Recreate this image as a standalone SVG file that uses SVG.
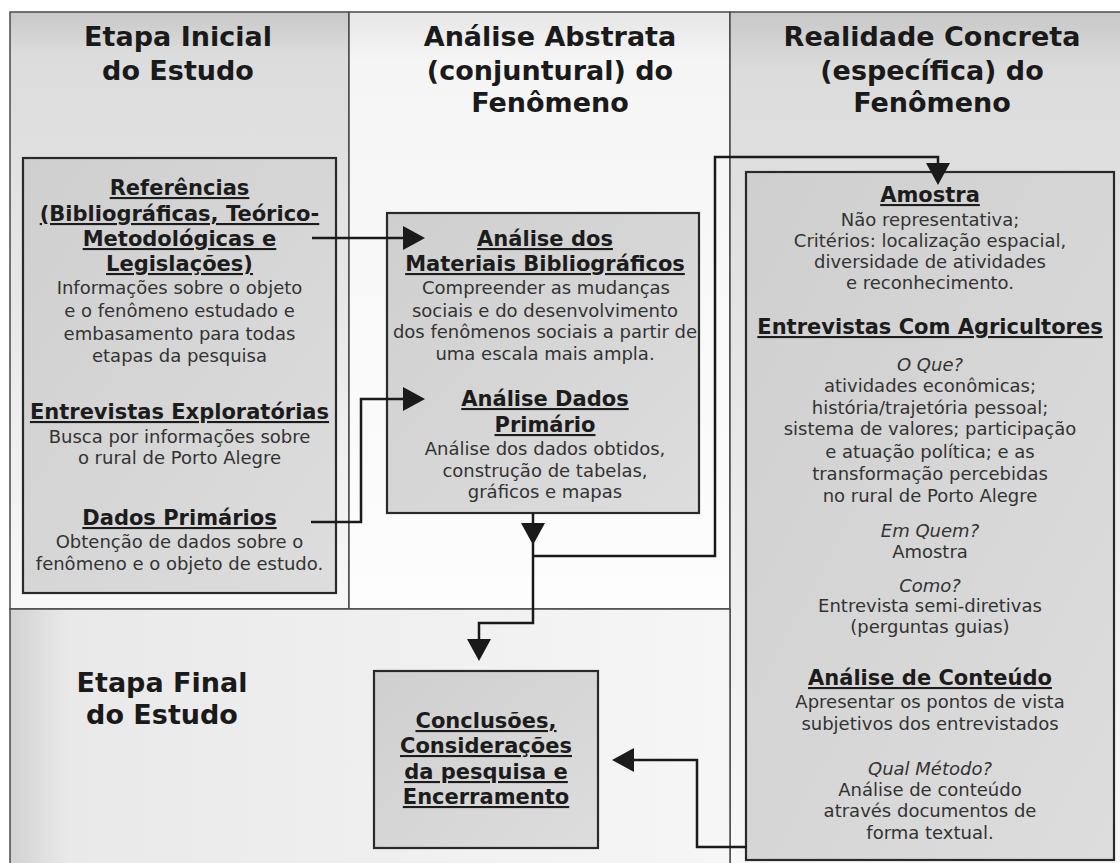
<svg xmlns="http://www.w3.org/2000/svg" width="1120" height="863" viewBox="0 0 1120 863">
<defs>
<linearGradient id="gSide" x1="0" y1="0" x2="0" y2="1">
<stop offset="0" stop-color="#c8c8c8"/>
<stop offset="0.07" stop-color="#dcdcdc"/>
<stop offset="0.45" stop-color="#e6e6e6"/>
<stop offset="1" stop-color="#f8f8f8"/>
</linearGradient>
<linearGradient id="gMid" x1="0" y1="0" x2="0" y2="1">
<stop offset="0" stop-color="#e6e6e6"/>
<stop offset="0.08" stop-color="#f5f5f5"/>
<stop offset="1" stop-color="#fdfdfd"/>
</linearGradient>
<linearGradient id="gBot" x1="0" y1="0" x2="1" y2="0">
<stop offset="0" stop-color="#d2d2d2"/>
<stop offset="0.08" stop-color="#e9e9e9"/>
<stop offset="1" stop-color="#f6f6f6"/>
</linearGradient>
<linearGradient id="gBox" x1="0" y1="0" x2="1" y2="1">
<stop offset="0" stop-color="#cfcfcf"/>
<stop offset="1" stop-color="#dddddd"/>
</linearGradient>
<marker id="arr" markerUnits="userSpaceOnUse" markerWidth="22" markerHeight="24" viewBox="0 0 22 24" refX="0" refY="12" orient="auto">
<path d="M0,0 L22,12 L0,24 Z" fill="#1a1a1a"/>
</marker>
</defs>
<style>
.panel{stroke:#4a4a4a;stroke-width:1.5}
.box{fill:url(#gBox);stroke:#2a2a2a;stroke-width:2.2}
text{font-family:"DejaVu Sans",Verdana,sans-serif;text-anchor:middle}
.t{font-size:27px;font-weight:bold;fill:#1a1a1a}
.h{font-size:21px;font-weight:bold;fill:#1c1c1c;text-decoration:underline}
.b{font-size:18px;fill:#333}
.i{font-size:18px;font-style:italic;fill:#333}
.c{fill:none;stroke:#1a1a1a;stroke-width:2.5}
</style>
<rect width="1120" height="863" fill="#ffffff"/>
<g id="panels">
<rect class="panel" x="10" y="12" width="339" height="597" fill="url(#gSide)"/>
<rect class="panel" x="349" y="12" width="381" height="597" fill="url(#gMid)"/>
<rect class="panel" x="730" y="12" width="392" height="855" fill="url(#gSide)"/>
<rect class="panel" x="10" y="609" width="720" height="258" fill="url(#gBot)"/>
<text class="t" x="178" y="46">Etapa Inicial</text>
<text class="t" x="178" y="80">do Estudo</text>
<text class="t" x="550" y="46">Análise Abstrata</text>
<text class="t" x="550" y="80">(conjuntural) do</text>
<text class="t" x="550" y="112">Fenômeno</text>
<text class="t" x="932" y="46">Realidade Concreta</text>
<text class="t" x="932" y="80">(específica) do</text>
<text class="t" x="932" y="112">Fenômeno</text>
<text class="t" x="162" y="692">Etapa Final</text>
<text class="t" x="162" y="724">do Estudo</text>
</g>
<g id="node-referencias">
<rect class="box" x="23" y="158" width="313" height="435"/>
<text class="h" x="179.5" y="195">Referências</text>
<text class="h" x="179.5" y="221">(Bibliográficas, Teórico-</text>
<text class="h" x="179.5" y="246">Metodológicas e</text>
<text class="h" x="179.5" y="271">Legislações)</text>
<text class="b" x="179.5" y="294">Informações sobre o objeto</text>
<text class="b" x="179.5" y="317">e o fenômeno estudado e</text>
<text class="b" x="179.5" y="340">embasamento para todas</text>
<text class="b" x="179.5" y="362">etapas da pesquisa</text>
<text class="h" x="179.5" y="419">Entrevistas Exploratórias</text>
<text class="b" x="179.5" y="443">Busca por informações sobre</text>
<text class="b" x="179.5" y="464">o rural de Porto Alegre</text>
<text class="h" x="179.5" y="525">Dados Primários</text>
<text class="b" x="179.5" y="548">Obtenção de dados sobre o</text>
<text class="b" x="179.5" y="570">fenômeno e o objeto de estudo.</text>
</g>
<g id="node-analise">
<rect class="box" x="387" y="213" width="312" height="300"/>
<text class="h" x="545" y="246">Análise dos</text>
<text class="h" x="545" y="271">Materiais Bibliográficos</text>
<text class="b" x="546" y="294">Compreender as mudanças</text>
<text class="b" x="545" y="317">sociais e do desenvolvimento</text>
<text class="b" x="545" y="338">dos fenômenos sociais a partir de</text>
<text class="b" x="545" y="360">uma escala mais ampla.</text>
<text class="h" x="545" y="406">Análise Dados</text>
<text class="h" x="545" y="432">Primário</text>
<text class="b" x="545" y="455">Análise dos dados obtidos,</text>
<text class="b" x="545" y="477">construção de tabelas,</text>
<text class="b" x="545" y="498">gráficos e mapas</text>
</g>
<g id="node-amostra">
<rect class="box" x="746" y="172" width="368" height="688"/>
<text class="h" x="930" y="202">Amostra</text>
<text class="b" x="930" y="226">Não representativa;</text>
<text class="b" x="930" y="247">Critérios: localização espacial,</text>
<text class="b" x="930" y="268">diversidade de atividades</text>
<text class="b" x="930" y="289">e reconhecimento.</text>
<text class="h" x="930" y="334">Entrevistas Com Agricultores</text>
<text class="i" x="930" y="371">O Que?</text>
<text class="b" x="930" y="392">atividades econômicas;</text>
<text class="b" x="930" y="414">história/trajetória pessoal;</text>
<text class="b" x="930" y="435">sistema de valores; participação</text>
<text class="b" x="930" y="458">e atuação política; e as</text>
<text class="b" x="930" y="480">transformação percebidas</text>
<text class="b" x="930" y="502">no rural de Porto Alegre</text>
<text class="i" x="930" y="537">Em Quem?</text>
<text class="b" x="930" y="558">Amostra</text>
<text class="i" x="930" y="592">Como?</text>
<text class="b" x="930" y="612">Entrevista semi-diretivas</text>
<text class="b" x="930" y="633">(perguntas guias)</text>
<text class="h" x="930" y="685">Análise de Conteúdo</text>
<text class="b" x="930" y="708">Apresentar os pontos de vista</text>
<text class="b" x="930" y="730">subjetivos dos entrevistados</text>
<text class="i" x="930" y="775">Qual Método?</text>
<text class="b" x="930" y="796">Análise de conteúdo</text>
<text class="b" x="930" y="817">através documentos de</text>
<text class="b" x="930" y="839">forma textual.</text>
</g>
<g id="node-conclusoes">
<rect class="box" x="374" y="671" width="224" height="177"/>
<text class="h" x="486" y="728">Conclusões,</text>
<text class="h" x="486" y="753">Considerações</text>
<text class="h" x="486" y="779">da pesquisa e</text>
<text class="h" x="486" y="804">Encerramento</text>
</g>
<g id="connectors">
<path class="c" d="M312,238 H403" marker-end="url(#arr)"/>
<path class="c" d="M311,522 H361 V399 H403" marker-end="url(#arr)"/>
<path class="c" d="M533,513 V523" marker-end="url(#arr)"/>
<path class="c" d="M533,543 V623 H479 V639" marker-end="url(#arr)"/>
<path class="c" d="M533,556 H715 V157 H938 V163" marker-end="url(#arr)"/>
<path class="c" d="M747,847 H697 V760 H634" marker-end="url(#arr)"/>
</g>
</svg>
